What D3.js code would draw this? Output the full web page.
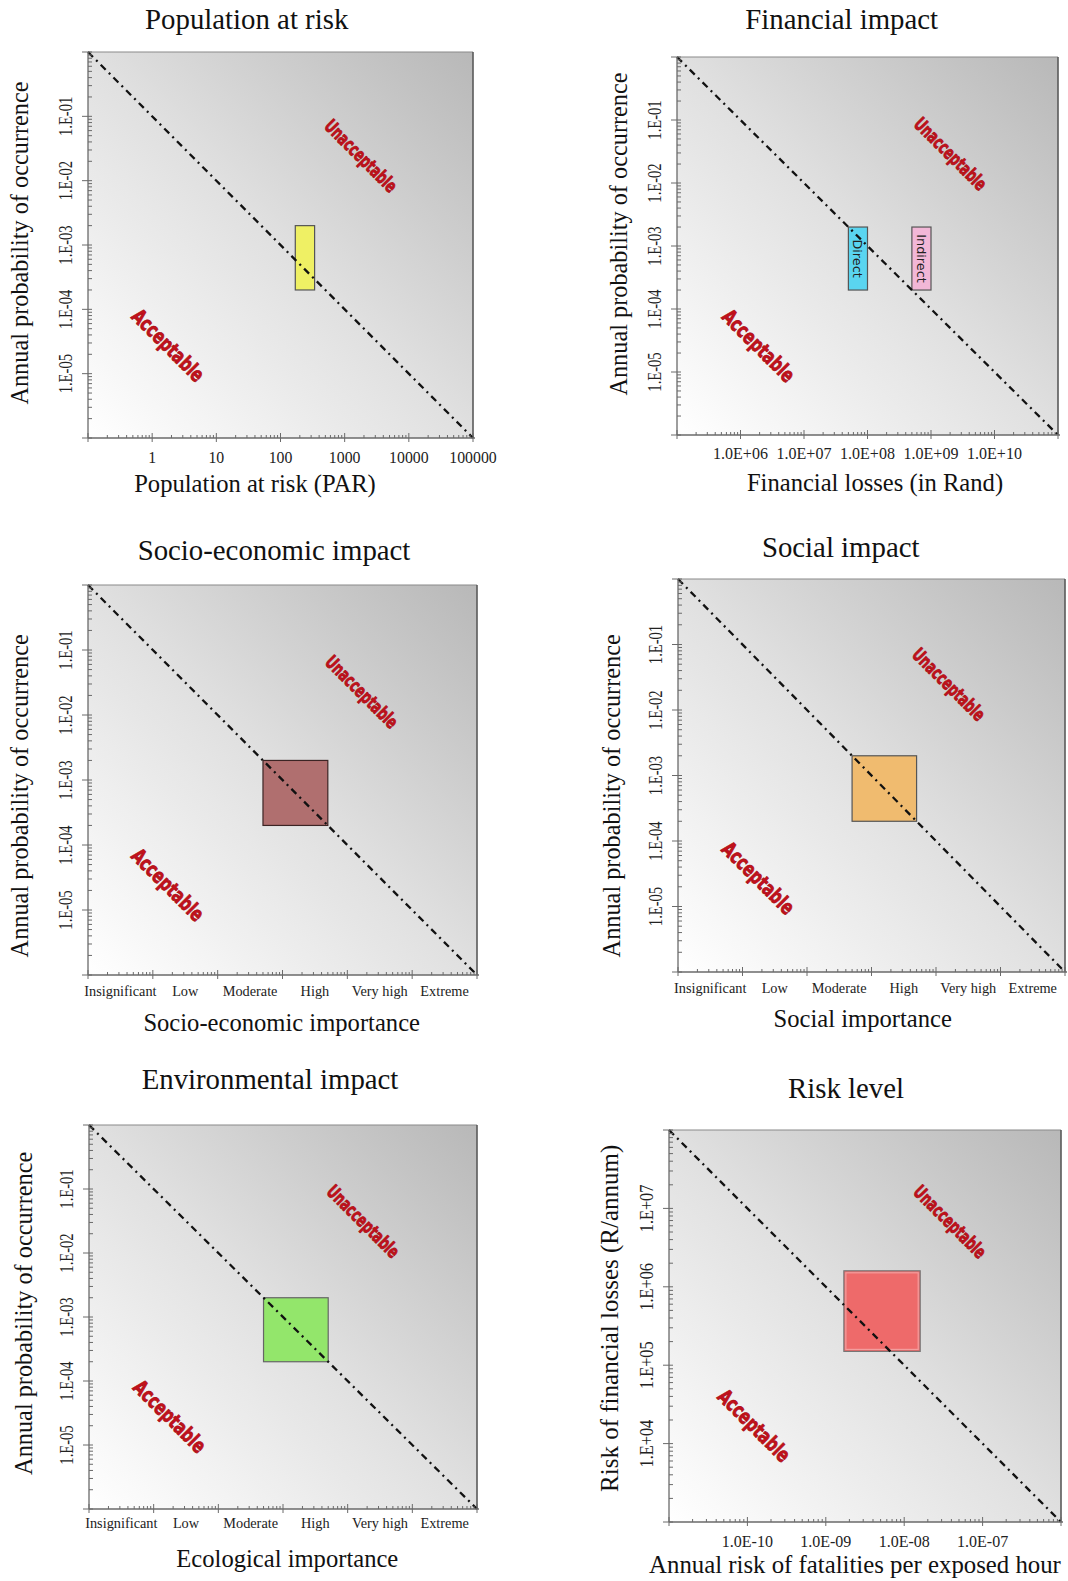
<!DOCTYPE html>
<html>
<head>
<meta charset="utf-8">
<script src="https://cdn.jsdelivr.net/npm/d3@7"></script>
<style>
  body { margin: 0; background: #fff; }
  svg { display: block; }
</style>
</head>
<body>
<svg id="fig" width="1068" height="1581"></svg>
<script>
// ---------------- data ----------------
const panelTitles = ["Population at risk", "Financial impact", "Socio-economic impact",
                     "Social impact", "Environmental impact", "Risk level"];
const xAxisTitles = ["Population at risk (PAR)", "Financial losses (in Rand)",
                     "Socio-economic importance", "Social importance",
                     "Ecological importance", "Annual risk of fatalities per exposed hour"];
const yAxisTitles = ["Annual probability of occurrence", "Annual probability of occurrence",
                     "Annual probability of occurrence", "Annual probability of occurrence",
                     "Annual probability of occurrence", "Risk of financial losses (R/annum)"];

const probabilityDomain = [1e-6, 1];
const probabilityTicks = [1e-1, 1e-2, 1e-3, 1e-4, 1e-5];
const probabilityTickLabels = ["1.E-01", "1.E-02", "1.E-03", "1.E-04", "1.E-05"];

const parDomain = [0.1, 1e5];
const parTicks = [1, 10, 100, 1000, 10000, 100000];
const parTickLabels = ["1", "10", "100", "1000", "10000", "100000"];

const lossDomain = [1e5, 1e11];
const lossTicks = [1e6, 1e7, 1e8, 1e9, 1e10];
const lossTickLabels = ["1.0E+06", "1.0E+07", "1.0E+08", "1.0E+09", "1.0E+10"];

// importance classes: class i covers one decade [10^i, 10^(i+1)]
const importanceDomain = [1, 1e6];
const importanceLevels = ["Insignificant", "Low", "Moderate", "High", "Very high", "Extreme"];

const fatalityDomain = [1e-11, 1e-6];
const fatalityTicks = [1e-10, 1e-9, 1e-8, 1e-7];
const fatalityTickLabels = ["1.0E-10", "1.0E-09", "1.0E-08", "1.0E-07"];

const financialRiskDomain = [1e3, 1e8];
const financialRiskTicks = [1e4, 1e5, 1e6, 1e7];
const financialRiskTickLabels = ["1.E+04", "1.E+05", "1.E+06", "1.E+07"];

// hazard extents: [xLow, xHigh, yLow, yHigh]
const parBox = [170, 340, 2e-4, 2e-3];
const directLossBox = [5e7, 1e8, 2e-4, 2e-3];
const indirectLossBox = [5e8, 1e9, 2e-4, 2e-3];
const socioEconomicBox = [500, 5000, 2e-4, 2e-3];
const socialBox = [500, 5000, 2e-4, 2e-3];
const ecologicalBox = [500, 5000, 2e-4, 2e-3];
const riskLevelBox = [1.7e-9, 1.6e-8, 1.5e5, 1.6e6];

// acceptability thresholds (end points)
const parThreshold = [[0.1, 1], [1e5, 1e-6]];
const lossThreshold = [[1e5, 1], [1e11, 1e-6]];
const importanceThreshold = [[1, 1], [1e6, 1e-6]];
const riskThreshold = [[1e-11, 1e8], [1e-6, 1e3]];

// ---------------- layout ----------------
const layout = [
  { plot: [88, 52, 473, 438],    title: [246.7, 29.3], xTitle: [255, 491.7], xTickY: 462.7, yTitle: [28, 243],      unacc: [0.709, 0.269], acc: [0.208, 0.760] },
  { plot: [677, 57, 1058, 435],  title: [841.7, 29.3], xTitle: [875, 491],   xTickY: 459,   yTitle: [626.5, 234],   unacc: [0.718, 0.256], acc: [0.214, 0.764] },
  { plot: [88, 585, 477, 975],   title: [274, 560],    xTitle: [281.7, 1030.7], xTickY: 995.7, yTitle: [27.8, 795.8], unacc: [0.704, 0.274], acc: [0.205, 0.769] },
  { plot: [678, 579, 1065, 972], title: [840.7, 556.7], xTitle: [862.7, 1026.7], xTickY: 993.3, yTitle: [619.8, 795.8], unacc: [0.700, 0.268], acc: [0.207, 0.761] },
  { plot: [89, 1125, 477, 1509], title: [270, 1089.3], xTitle: [287.3, 1566.7], xTickY: 1527.7, yTitle: [31.5, 1313.3], unacc: [0.707, 0.251], acc: [0.208, 0.759] },
  { plot: [669, 1130, 1061, 1522], title: [846, 1098.3], xTitle: [855, 1573.3], xTickY: 1546.7, yTitle: [618, 1318.3], unacc: [0.717, 0.234], acc: [0.217, 0.754] }
];

const importanceAxis = {
  domain: importanceDomain,
  ticks: importanceLevels.map((_, i) => Math.pow(10, i + 0.5)),
  labels: importanceLevels,
  fontSize: 14.3
};
const probabilityAxis = { domain: probabilityDomain, ticks: probabilityTicks, labels: probabilityTickLabels, squeeze: 0.79 };

const panels = [
  { x: { domain: parDomain, ticks: parTicks, labels: parTickLabels, fontSize: 15.8 },
    y: probabilityAxis,
    boxes: [{ extent: parBox, fill: "#eff064", stroke: "#555" }],
    threshold: parThreshold },
  { x: { domain: lossDomain, ticks: lossTicks, labels: lossTickLabels, fontSize: 16 },
    y: probabilityAxis,
    boxes: [{ extent: directLossBox, fill: "#5ad5f0", stroke: "#555", label: "Direct" },
            { extent: indirectLossBox, fill: "#f2b7d7", stroke: "#555", label: "Indirect" }],
    threshold: lossThreshold },
  { x: importanceAxis, y: probabilityAxis,
    boxes: [{ extent: socioEconomicBox, fill: "#b06f6f", stroke: "#3c2424" }],
    threshold: importanceThreshold },
  { x: importanceAxis, y: probabilityAxis,
    boxes: [{ extent: socialBox, fill: "#f0bb6f", stroke: "#555" }],
    threshold: importanceThreshold },
  { x: importanceAxis, y: probabilityAxis,
    boxes: [{ extent: ecologicalBox, fill: "#93e66b", stroke: "#666" }],
    threshold: importanceThreshold },
  { x: { domain: fatalityDomain, ticks: fatalityTicks, labels: fatalityTickLabels, fontSize: 16 },
    y: { domain: financialRiskDomain, ticks: financialRiskTicks, labels: financialRiskTickLabels, squeeze: 0.88 },
    boxes: [{ extent: riskLevelBox, fill: "#ee6a6a", stroke: "#777", bevel: true }],
    threshold: riskThreshold }
];

// ---------------- drawing ----------------
const svg = d3.select("#fig");
const serif = "'Liberation Serif', 'Times New Roman', serif";
const axisColor = "#6a6a6a";

const defs = svg.append("defs");
const grad = defs.append("linearGradient")
  .attr("id", "bg-grad")
  .attr("x1", 0).attr("y1", 1).attr("x2", 1).attr("y2", 0);
grad.append("stop").attr("offset", "0%").attr("stop-color", "#ffffff");
grad.append("stop").attr("offset", "50%").attr("stop-color", "#e0e0e0");
grad.append("stop").attr("offset", "100%").attr("stop-color", "#b8b8b8");

const isDecade = v => Math.abs(Math.log10(v) - Math.round(Math.log10(v))) < 1e-9;

panels.forEach((p, i) => {
  const L = layout[i];
  const [x0, y0, x1, y1] = L.plot;
  const xs = d3.scaleLog().domain(p.x.domain).range([x0, x1]);
  const ys = d3.scaleLog().domain(p.y.domain).range([y1, y0]);
  const g = svg.append("g").attr("class", "panel");

  // background
  g.append("rect")
    .attr("x", x0).attr("y", y0)
    .attr("width", x1 - x0).attr("height", y1 - y0)
    .attr("fill", "url(#bg-grad)");
  // frame top / right
  g.append("line").attr("x1", x0).attr("y1", y0).attr("x2", x1).attr("y2", y0)
    .attr("stroke", "#8a8a8a").attr("stroke-width", 1.2);
  g.append("line").attr("x1", x1).attr("y1", y0).attr("x2", x1).attr("y2", y1)
    .attr("stroke", "#5a5a5a").attr("stroke-width", 1.6);

  // hazard boxes
  p.boxes.forEach(b => {
    const [bx0, bx1, by0, by1] = b.extent;
    const rx = xs(bx0), rw = xs(bx1) - xs(bx0);
    const ry = ys(by1), rh = ys(by0) - ys(by1);
    g.append("rect")
      .attr("x", rx).attr("y", ry).attr("width", rw).attr("height", rh)
      .attr("fill", b.fill).attr("stroke", b.stroke).attr("stroke-width", 1.2);
    if (b.bevel) {
      g.append("rect")
        .attr("x", rx + 2).attr("y", ry + 2).attr("width", rw - 4).attr("height", rh - 4)
        .attr("fill", "none").attr("stroke", "rgba(255,255,255,0.35)").attr("stroke-width", 1.2);
    }
    if (b.label) {
      g.append("text")
        .attr("transform", `translate(${rx + rw / 2},${ry + rh / 2}) rotate(90)`)
        .attr("text-anchor", "middle")
        .attr("dominant-baseline", "central")
        .attr("font-family", "'DejaVu Sans', Verdana, sans-serif")
        .attr("font-size", 12.8)
        .attr("fill", "#222")
        .text(b.label);
    }
  });

  // threshold line
  g.append("path")
    .datum(p.threshold)
    .attr("d", d3.line().x(d => xs(d[0])).y(d => ys(d[1])))
    .attr("fill", "none")
    .attr("stroke", "#111")
    .attr("stroke-width", 2.3)
    .attr("stroke-dasharray", "7,4.5,2,4.5");

  // axes lines
  g.append("line").attr("x1", x0).attr("y1", y1).attr("x2", x1 + 2).attr("y2", y1)
    .attr("stroke", axisColor).attr("stroke-width", 1.3);
  g.append("line").attr("x1", x0).attr("y1", y0).attr("x2", x0).attr("y2", y1)
    .attr("stroke", axisColor).attr("stroke-width", 1.3);

  // x tick marks (log decades with minor subdivisions)
  xs.ticks(10).forEach(v => {
    const tx = xs(v);
    const major = isDecade(v);
    g.append("line")
      .attr("x1", tx).attr("x2", tx)
      .attr("y1", y1 - (major ? 5 : 3)).attr("y2", y1 + (major ? 4 : 0))
      .attr("stroke", axisColor).attr("stroke-width", 1);
  });
  // y tick marks
  ys.ticks(10).forEach(v => {
    const ty = ys(v);
    const major = isDecade(v);
    g.append("line")
      .attr("x1", x0 - (major ? 6 : 0)).attr("x2", x0 + 4)
      .attr("y1", ty).attr("y2", ty)
      .attr("stroke", axisColor).attr("stroke-width", 1);
  });

  // x tick labels
  p.x.ticks.forEach((v, k) => {
    g.append("text")
      .attr("x", xs(v)).attr("y", L.xTickY)
      .attr("text-anchor", "middle")
      .attr("font-family", serif)
      .attr("font-size", p.x.fontSize)
      .attr("fill", "#222")
      .text(p.x.labels[k]);
  });
  // y tick labels (rotated, horizontally condensed)
  p.y.ticks.forEach((v, k) => {
    g.append("text")
      .attr("transform", `translate(${x0 - 16},${ys(v)}) rotate(-90) scale(${p.y.squeeze},1)`)
      .attr("text-anchor", "middle")
      .attr("font-family", serif)
      .attr("font-size", 18.5)
      .attr("fill", "#222")
      .text(p.y.labels[k]);
  });

  // zone labels
  const zone = (frac, txt, size, len) => {
    g.append("text")
      .attr("transform", `translate(${x0 + frac[0] * (x1 - x0)},${y0 + frac[1] * (y1 - y0)}) rotate(45)`)
      .attr("text-anchor", "middle")
      .attr("dominant-baseline", "central")
      .attr("font-family", "'DejaVu Sans', 'Liberation Sans', sans-serif")
      .attr("font-weight", "bold")
      .attr("font-size", size)
      .attr("textLength", len)
      .attr("lengthAdjust", "spacingAndGlyphs")
      .attr("fill", "#c3111b")
      .attr("stroke", "#a80c14")
      .attr("stroke-width", 0.8)
      .attr("stroke-linejoin", "round")
      .text(txt);
  };
  zone(L.unacc, "Unacceptable", 18.5, 94);
  zone(L.acc, "Acceptable", 20.5, 93);

  // titles
  g.append("text")
    .attr("x", L.title[0]).attr("y", L.title[1])
    .attr("text-anchor", "middle")
    .attr("font-family", serif).attr("font-size", 28.8).attr("fill", "#111")
    .text(panelTitles[i]);
  g.append("text")
    .attr("x", L.xTitle[0]).attr("y", L.xTitle[1])
    .attr("text-anchor", "middle")
    .attr("font-family", serif).attr("font-size", i === 5 ? 24.8 : 24.6).attr("fill", "#111")
    .text(xAxisTitles[i]);
  g.append("text")
    .attr("transform", `translate(${L.yTitle[0]},${L.yTitle[1]}) rotate(-90)`)
    .attr("text-anchor", "middle")
    .attr("font-family", serif).attr("font-size", i === 5 ? 25 : 24.3).attr("fill", "#111")
    .text(yAxisTitles[i]);
});
</script>
</body>
</html>
